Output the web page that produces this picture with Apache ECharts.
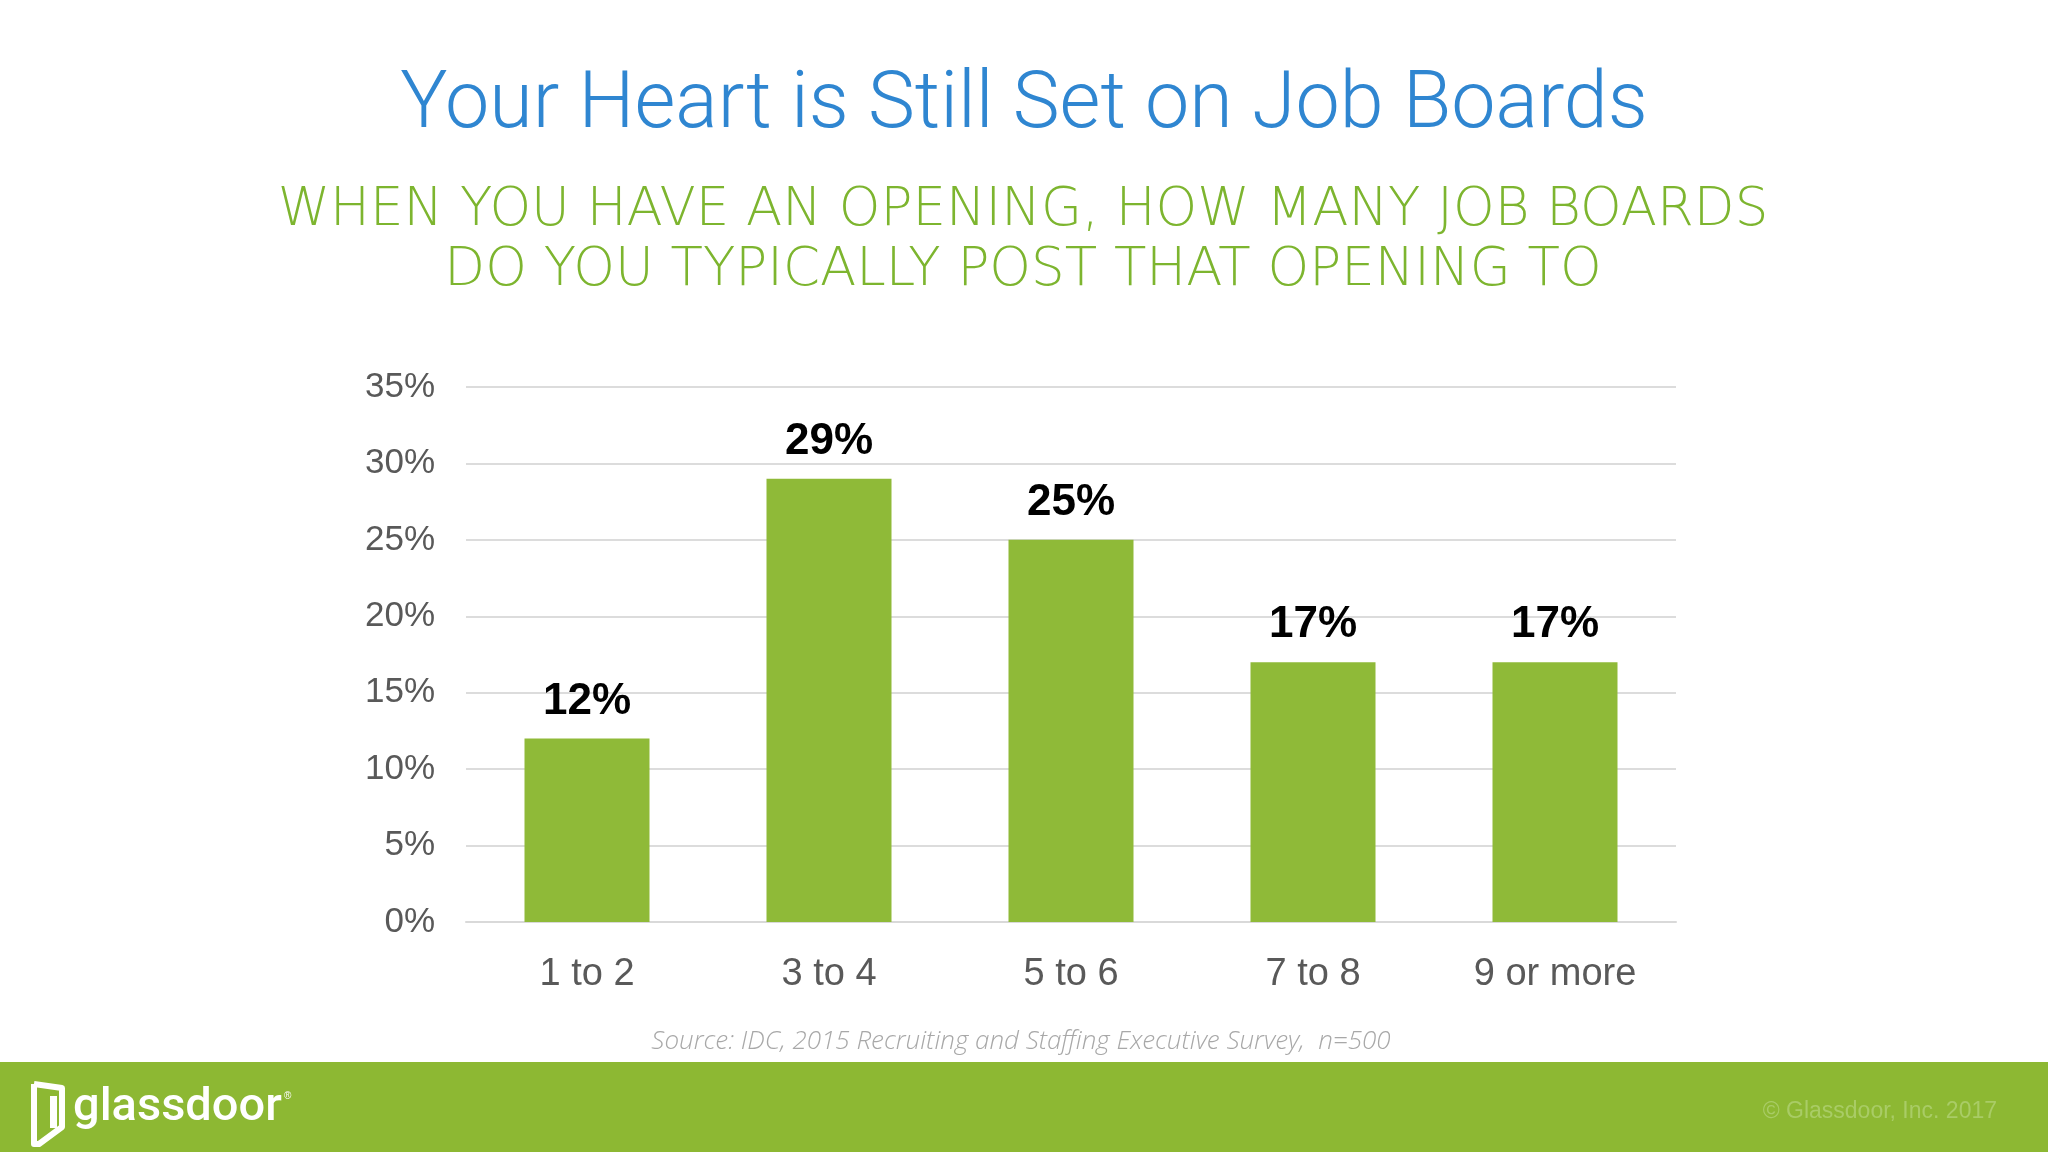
<!DOCTYPE html>
<html>
<head>
<meta charset="utf-8">
<style>
  html, body { margin: 0; padding: 0; background: #ffffff; }
  #chart { width: 2048px; height: 1152px; }
</style>
<script src="https://cdn.jsdelivr.net/npm/echarts@6/dist/echarts.min.js"></script>
</head>
<body>
<div id="chart"></div>
<script>
const titleText = 'Your Heart is Still Set on Job Boards';
const subtitleLines = ['WHEN YOU HAVE AN OPENING, HOW MANY JOB BOARDS', 'DO YOU TYPICALLY POST THAT OPENING TO'];
const categories = ['1 to 2', '3 to 4', '5 to 6', '7 to 8', '9 or more'];
const values = [12, 29, 25, 17, 17];
const yTicks = { min: 0, max: 35, interval: 5 };
const sourceText = 'Source: IDC, 2015 Recruiting and Staffing Executive Survey,  n=500';
const copyrightText = '© Glassdoor, Inc. 2017';
const logoText = 'glassdoor';

const chart = echarts.init(document.getElementById('chart'), null, { renderer: 'canvas' });
const green = '#8fba38';

chart.setOption({
  backgroundColor: '#ffffff',
  animation: false,
  grid: { left: 466, right: 372, top: 387, bottom: 230, containLabel: false },
  xAxis: {
    type: 'category',
    data: categories,
    axisLine: { show: true, lineStyle: { color: '#d9d9d9', width: 2 } },
    axisTick: { show: false },
    axisLabel: { color: '#595959', fontSize: 38, fontFamily: 'Liberation Sans', margin: 34 }
  },
  yAxis: {
    type: 'value',
    min: yTicks.min, max: yTicks.max, interval: yTicks.interval,
    axisLine: { show: false },
    axisTick: { show: false },
    splitLine: { lineStyle: { color: '#dcdcdc', width: 2 } },
    axisLabel: { color: '#595959', fontSize: 35, fontFamily: 'Liberation Sans', margin: 31, padding: [6, 0, 0, 0], formatter: '{value}%' }
  },
  series: [{
    type: 'bar',
    data: values,
    barWidth: 125,
    itemStyle: { color: green },
    label: {
      show: true, position: 'top', distance: 15,
      formatter: '{c}%',
      color: '#000000', fontSize: 44, fontWeight: 'bold', fontFamily: 'Liberation Sans'
    }
  }],
  graphic: [
    { type: 'text', x: 1024, y: 107, style: { text: titleText, fill: '#2f86d1', font: '300 79px Roboto', textAlign: 'center', textVerticalAlign: 'middle' } },
    { type: 'text', x: 1023, y: 211, style: { text: subtitleLines[0], fill: '#7db52f', font: '200 53px "DejaVu Sans"', textAlign: 'center', textVerticalAlign: 'middle' } },
    { type: 'text', x: 1023, y: 271, style: { text: subtitleLines[1], fill: '#7db52f', font: '200 53px "DejaVu Sans"', textAlign: 'center', textVerticalAlign: 'middle' } },
    { type: 'text', x: 1021, y: 1042, style: { text: sourceText, fill: '#a8a8a8', font: 'italic 300 26px "Open Sans"', textAlign: 'center', textVerticalAlign: 'middle' } },
    { type: 'rect', shape: { x: 0, y: 1062, width: 2048, height: 90 }, style: { fill: '#8db833' } },
    { type: 'text', x: 1997, y: 1112, style: { text: copyrightText, fill: '#a9cc66', font: '23px Liberation Sans', textAlign: 'right', textVerticalAlign: 'middle' } },
    { type: 'polyline', shape: { points: [[34, 1084], [62, 1088], [62, 1127], [39, 1144], [34, 1144], [34, 1084]] }, style: { stroke: '#ffffff', lineWidth: 6, fill: null, lineJoin: 'round' } },
    { type: 'rect', shape: { x: 50, y: 1096, width: 7, height: 32 }, style: { fill: '#ffffff' } },
    { type: 'text', x: 73, y: 1108, style: { text: logoText, fill: '#ffffff', font: '500 47px Roboto', textVerticalAlign: 'middle' } },
    { type: 'text', x: 284, y: 1096, style: { text: '®', fill: '#ffffff', font: '10px Liberation Sans', textVerticalAlign: 'middle' } }
  ]
});
</script>
</body>
</html>
